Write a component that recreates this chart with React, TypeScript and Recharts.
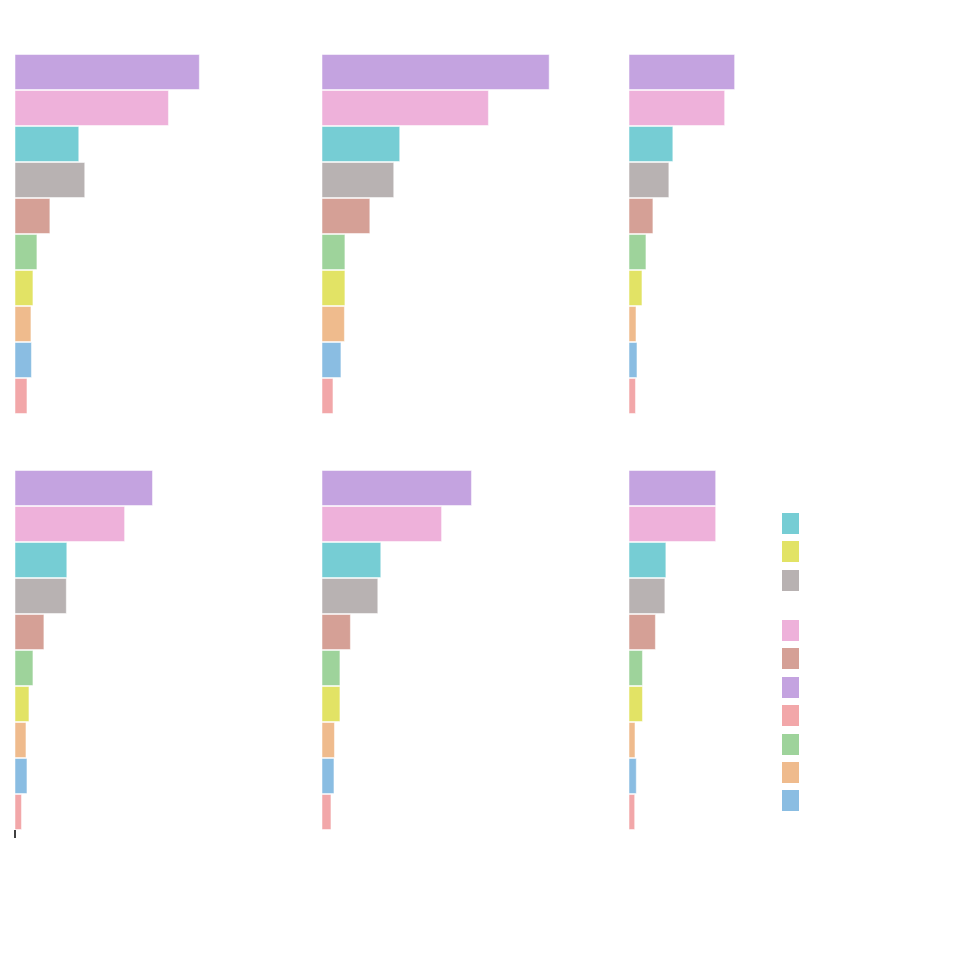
import React from "react";
import { BarChart, Bar, XAxis, YAxis, Cell } from "recharts";

// Categories (top to bottom in every panel)
const categories = ["c1", "c2", "c3", "c4", "c5", "c6", "c7", "c8", "c9", "c10"];
const categoryColors = [
  "#c4a3e0", // purple
  "#eeb1da", // pink
  "#76cdd4", // teal
  "#b8b2b2", // gray
  "#d5a096", // brown
  "#9ed39b", // green
  "#e2e365", // yellow
  "#efbb8d", // orange
  "#8abde2", // blue
  "#f2a7a9", // red
];

// Panel values (row 1: p1..p3, row 2: p4..p6)
const panel1 = [185, 154, 64, 70, 35, 22, 18, 16, 16.5, 12];
const panel2 = [228, 167, 78, 72, 48, 23, 23, 22.5, 19, 11];
const panel3 = [106, 96, 44, 40, 24, 17, 13, 7, 8, 6.5];
const panel4 = [138, 110, 52, 51.5, 29, 18, 14, 11, 12, 6.5];
const panel5 = [150, 120, 59, 56, 28.5, 18, 18, 12.5, 12, 9];
const panel6 = [87, 87, 37, 36, 26.5, 13.5, 13.5, 6, 7.3, 5.7];

const xDomain: [number, number] = [0, 280];
const xTicks = [0];

// Legend groups (category indices)
const legendGroup1 = [2, 6, 3];
const legendGroup2 = [1, 4, 0, 9, 5, 7, 8];

const PANEL_W = 280;
const PANEL_H = 360;
const AXIS_H = 10;

type PanelProps = { values: number[]; left: number; top: number; showTick?: boolean };

const EmptyTick = () => <g />;

function Panel({ values, left, top, showTick }: PanelProps) {
  const data = categories.map((name, i) => ({ name, value: values[i] }));
  return (
    <div style={{ position: "absolute", left: left - 1, top }}>
      <BarChart
        width={PANEL_W}
        height={PANEL_H + (showTick ? AXIS_H : 0)}
        data={data}
        layout="vertical"
        margin={{ top: 0, right: 0, bottom: 0, left: 1 }}
        barCategoryGap={0.5}
      >
        <XAxis
          type="number"
          domain={xDomain}
          ticks={xTicks}
          interval={0}
          hide={!showTick}
          height={showTick ? AXIS_H : 0}
          axisLine={false}
          tick={EmptyTick}
          tickSize={8}
          tickLine={{ stroke: "#000", strokeWidth: 1.5 }}
        />
        <YAxis type="category" dataKey="name" hide />
        <Bar dataKey="value" isAnimationActive={false} stroke="#ffffff" strokeOpacity={0.5} strokeWidth={1}>
          {data.map((d, i) => (
            <Cell key={d.name} fill={categoryColors[i]} />
          ))}
        </Bar>
      </BarChart>
    </div>
  );
}

function Swatch({ idx, top }: { idx: number; top: number }) {
  return (
    <div
      style={{
        position: "absolute",
        left: 0,
        top,
        width: 17,
        height: 21,
        background: categoryColors[idx],
        boxShadow: "0 0 0 1px rgba(255,255,255,0.5)",
      }}
    />
  );
}

export default function App() {
  const body = 8;
  return (
    <div style={{ position: "relative", width: 964, height: 964, background: "#fff" }}>
      <Panel values={panel1} left={15 - body} top={54 - body} />
      <Panel values={panel2} left={322 - body} top={54 - body} />
      <Panel values={panel3} left={629 - body} top={54 - body} />
      <Panel values={panel4} left={15 - body} top={470 - body} showTick />
      <Panel values={panel5} left={322 - body} top={470 - body} />
      <Panel values={panel6} left={629 - body} top={470 - body} />
      <div style={{ position: "absolute", left: 782 - body, top: 513 - body }}>
        {legendGroup1.map((idx, i) => (
          <Swatch key={"g1" + idx} idx={idx} top={i * 28.4} />
        ))}
        {legendGroup2.map((idx, i) => (
          <Swatch key={"g2" + idx} idx={idx} top={107 + i * 28.4} />
        ))}
      </div>
    </div>
  );
}
